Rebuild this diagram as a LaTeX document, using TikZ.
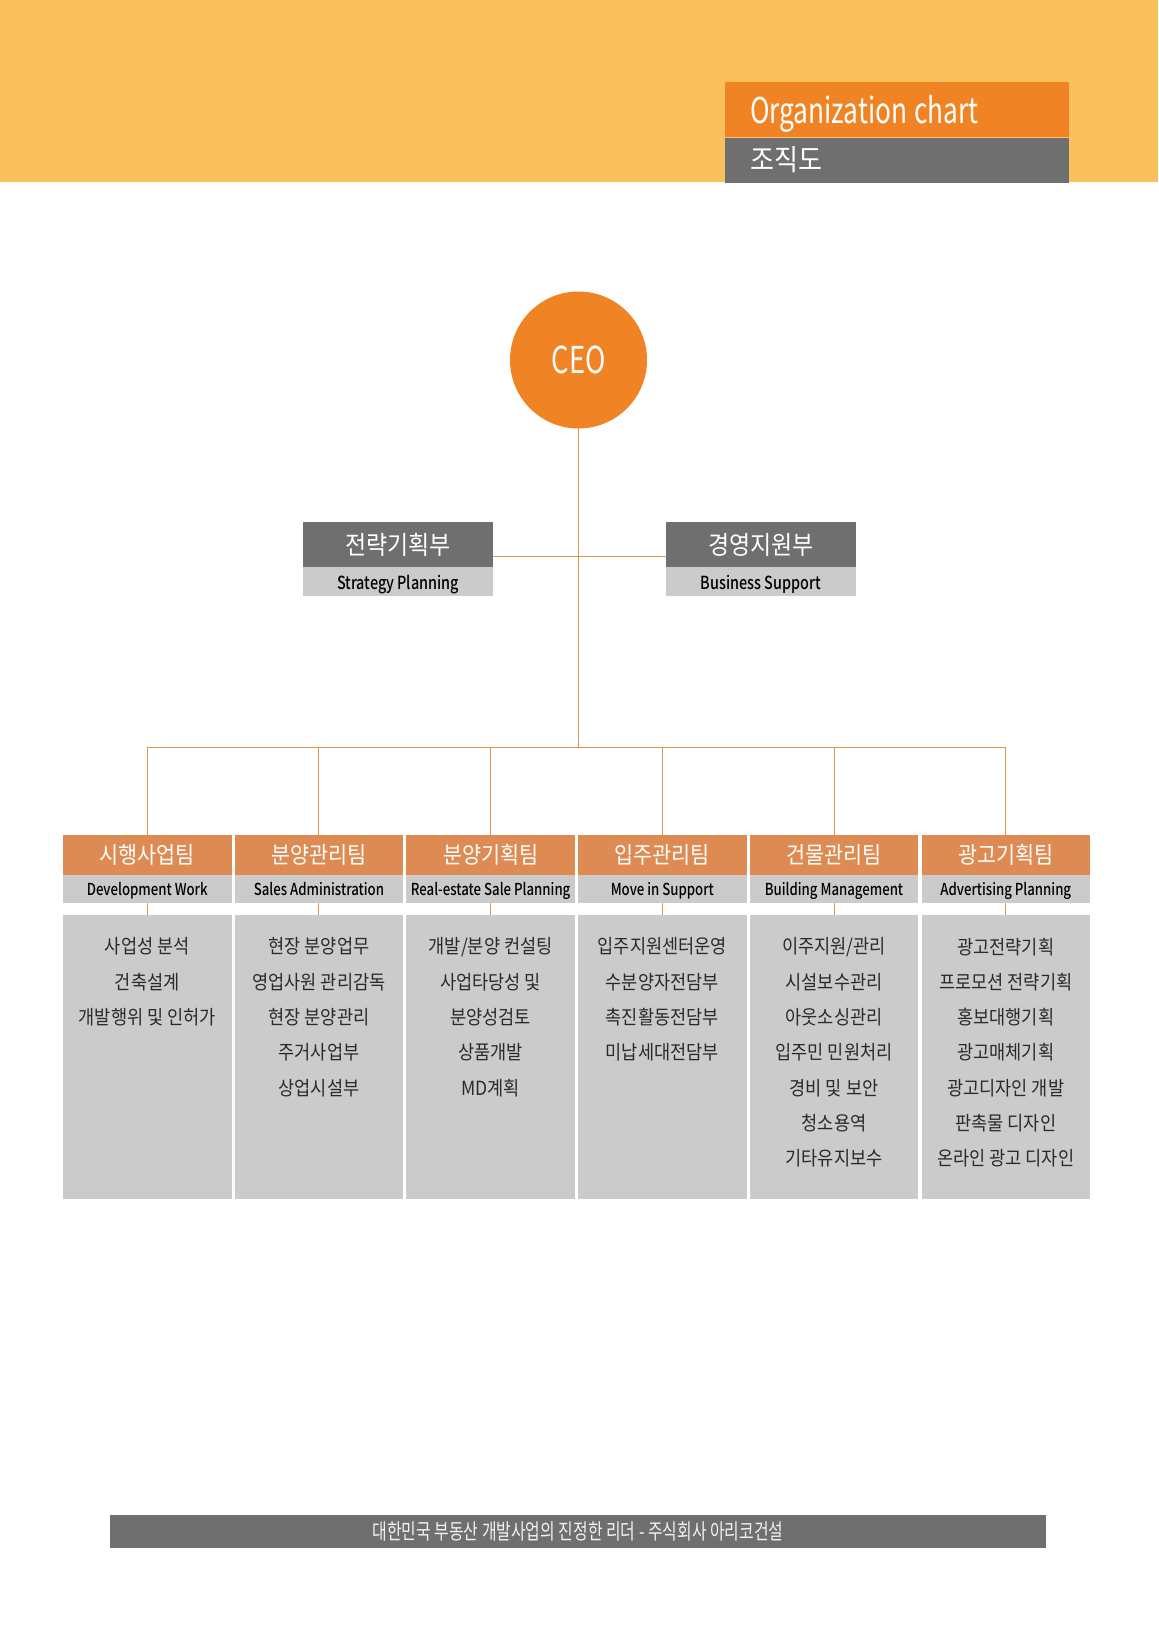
\documentclass[tikz,border=0pt]{standalone}
\usepackage{fontspec}
\setmainfont{Noto Sans CJK KR}
\newfontfamily\krfont{Noto Sans CJK KR}[FakeStretch=0.90]
\newfontfamily\cnfont{Noto Sans CJK KR}[FakeStretch=0.74]
\newfontfamily\medfont{Noto Sans CJK KR Medium}[FakeStretch=0.80]
\usetikzlibrary{positioning}

\definecolor{bandyellow}{HTML}{F9C05B}
\definecolor{chartorange}{HTML}{F08425}
\definecolor{teamorange}{HTML}{DE8B53}
\definecolor{darkgrey}{HTML}{6F6F6F}
\definecolor{lightgrey}{HTML}{CACBCA}
\definecolor{linkorange}{HTML}{E19450}
\definecolor{tasktext}{HTML}{2A2A2A}

\begin{document}
\begin{tikzpicture}[x=1bp, y=1bp, line cap=round, line join=round,
  link/.style={draw=linkorange, line width=1bp},
  depthead/.style={fill=darkgrey, minimum width=190bp, minimum height=45bp, inner sep=0pt,
    text=white, font=\krfont\fontsize{25.5bp}{30bp}\selectfont},
  deptsub/.style={fill=lightgrey, minimum width=190bp, minimum height=29bp, inner sep=0pt,
    text depth=0pt, text=black, font=\medfont\fontsize{18bp}{22bp}\selectfont},
  teamhead/.style={fill=teamorange, minimum width=168.5bp, minimum height=40bp, inner sep=0pt,
    text=white, font=\krfont\fontsize{23bp}{27bp}\selectfont},
  teamsub/.style={fill=lightgrey, minimum width=168.5bp, minimum height=28bp, inner sep=0pt,
    text depth=0pt, text=black, font=\medfont\fontsize{16.5bp}{19bp}\selectfont},
  teambody/.style={fill=lightgrey, minimum width=168.5bp, minimum height=284bp, inner sep=0pt},
  tasks/.style={anchor=north, align=center, inner sep=0pt, text=tasktext,
    font=\krfont\fontsize{19.5bp}{35.3bp}\selectfont}]
  \useasboundingbox (0,0) rectangle (1158,-1638);
  % header band
  \fill[bandyellow] (0,0) rectangle (1158,-182);
  \node[fill=chartorange, anchor=north west, minimum width=344bp, minimum height=55bp,
    inner xsep=25bp, inner ysep=0pt, text width=294bp, text depth=0pt, align=left, text=white,
    font=\cnfont\fontsize{35.5bp}{40bp}\selectfont] (title) at (725,-82) {Organization\kern-5bp{} chart};
  \node[fill=darkgrey, anchor=north west, minimum width=344bp, minimum height=45bp,
    inner xsep=25bp, inner ysep=0pt, text width=294bp, align=left, text=white,
    font=\krfont\fontsize{29bp}{34bp}\selectfont] (subtitle) at (title.south west) {조직도};

  % ceo and support departments
  \node[circle, fill=chartorange, minimum size=137bp, inner sep=0pt, text=white,
    font=\cnfont\fontsize{37bp}{40bp}\selectfont] (ceo) at (578.5,-360) {CEO};
  \coordinate (bar) at (578.5,-747);
  \node[depthead] (sp) at (398,-544.5) {전략기획부};
  \node[deptsub, below=0pt of sp] (spsub) {Strategy Planning};
  \node[depthead] (bs) at (761,-544.5) {경영지원부};
  \node[deptsub, below=0pt of bs] (bssub) {Business Support};
  \draw[link] (ceo) -- (bar);
  \draw[link] ([yshift=-11.5bp]sp.east) -- ([yshift=-11.5bp]bs.west);

  % teams
  \node[teamhead] (dw) at (147.25,-855) {시행사업팀};
  \node[teamsub, below=0pt of dw] (dwsub) {Development Work};
  \node[teambody, below=11bp of dwsub] (dwbody) {};
  \node[tasks, below=23bp of dwbody.north] (dwtasks) {사업성 분석\\건축설계\\개발행위 및 인허가};

  \node[teamhead] (sa) at (318.95,-855) {분양관리팀};
  \node[teamsub, below=0pt of sa] (sasub) {Sales Administration};
  \node[teambody, below=11bp of sasub] (sabody) {};
  \node[tasks, below=23bp of sabody.north] (satasks) {현장 분양업무\\영업사원 관리감독\\현장 분양관리\\주거사업부\\상업시설부};

  \node[teamhead] (rp) at (490.65,-855) {분양기획팀};
  \node[teamsub, below=0pt of rp] (rpsub) {Real-estate Sale Planning};
  \node[teambody, below=11bp of rpsub] (rpbody) {};
  \node[tasks, below=23bp of rpbody.north] (rptasks) {개발/분양 컨설팅\\사업타당성 및\\분양성검토\\상품개발\\MD계획};

  \node[teamhead] (ms) at (662.35,-855) {입주관리팀};
  \node[teamsub, below=0pt of ms] (mssub) {Move in Support};
  \node[teambody, below=11bp of mssub] (msbody) {};
  \node[tasks, below=23bp of msbody.north] (mstasks) {입주지원센터운영\\수분양자전담부\\촉진활동전담부\\미납세대전담부};

  \node[teamhead] (bm) at (834.05,-855) {건물관리팀};
  \node[teamsub, below=0pt of bm] (bmsub) {Building Management};
  \node[teambody, below=11bp of bmsub] (bmbody) {};
  \node[tasks, below=23bp of bmbody.north] (bmtasks) {이주지원/관리\\시설보수관리\\아웃소싱관리\\입주민 민원처리\\경비 및 보안\\청소용역\\기타유지보수};

  \node[teamhead] (ap) at (1005.75,-855) {광고기획팀};
  \node[teamsub, below=0pt of ap] (apsub) {Advertising Planning};
  \node[teambody, below=11bp of apsub] (apbody) {};
  \node[tasks, below=23bp of apbody.north] (aptasks) {광고전략기획\\프로모션 전략기획\\홍보대행기획\\광고매체기획\\광고디자인 개발\\판촉물 디자인\\온라인 광고 디자인};

  % connectors to teams
  \draw[link] (dw |- bar) -- (ap |- bar);
  \draw[link] (dw |- bar) -- (dw);
  \draw[link] (sa |- bar) -- (sa);
  \draw[link] (rp |- bar) -- (rp);
  \draw[link] (ms |- bar) -- (ms);
  \draw[link] (bm |- bar) -- (bm);
  \draw[link] (ap |- bar) -- (ap);
  \draw[link] (dwsub) -- (dwbody);
  \draw[link] (sasub) -- (sabody);
  \draw[link] (rpsub) -- (rpbody);
  \draw[link] (mssub) -- (msbody);
  \draw[link] (bmsub) -- (bmbody);
  \draw[link] (apsub) -- (apbody);

  % footer
  \node[fill=darkgrey, minimum width=936bp, minimum height=33bp, inner sep=0pt, text=white!90!darkgrey,
    font=\cnfont\fontsize{21.5bp}{25bp}\selectfont] (footer) at (578,-1531.5)
    {대한민국 부동산 개발사업의 진정한 리더 - 주식회사 아리코건설};
\end{tikzpicture}
\end{document}
